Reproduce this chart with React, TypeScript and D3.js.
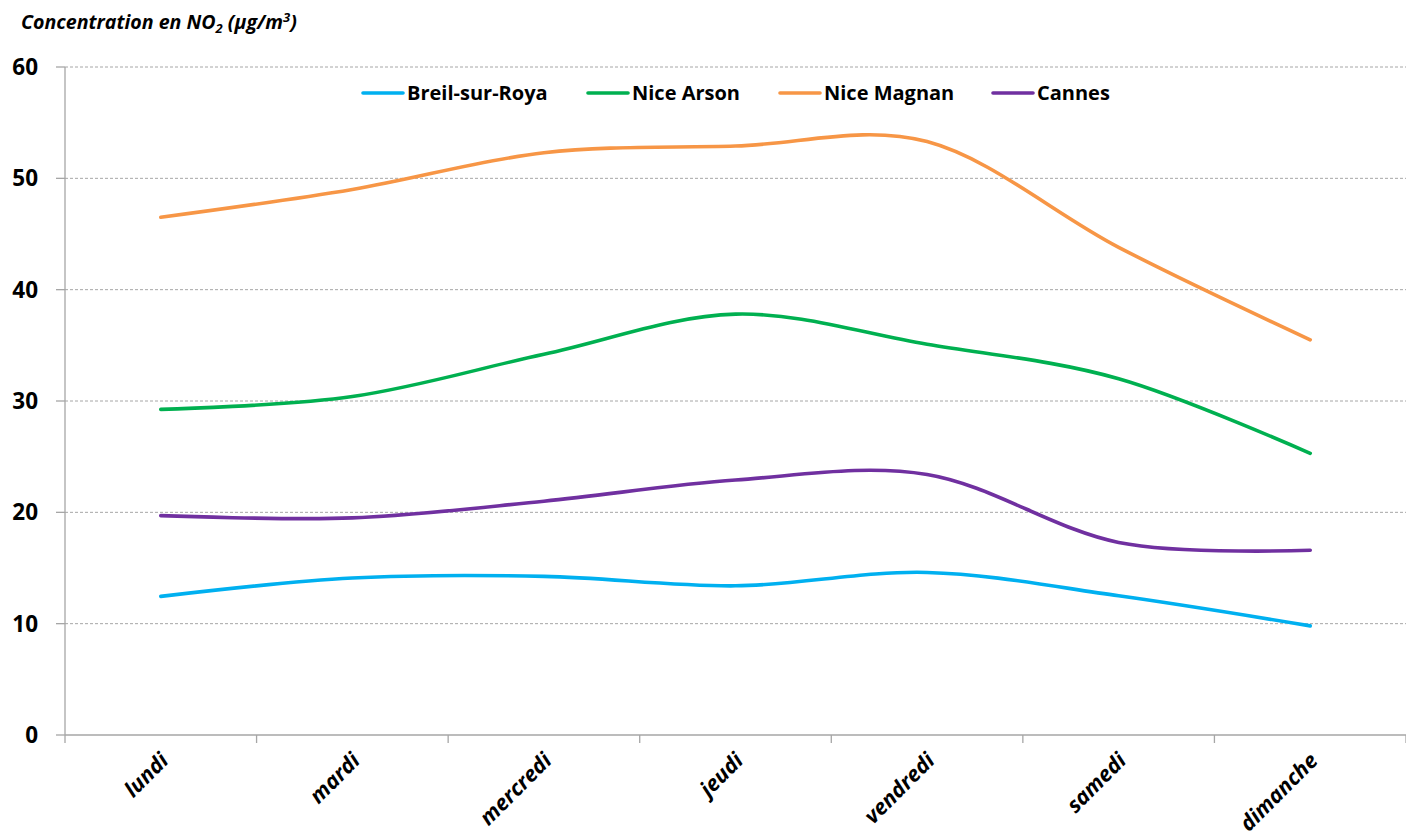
import React from "react";
import * as d3 from "d3";

const days = ["lundi", "mardi", "mercredi", "jeudi", "vendredi", "samedi", "dimanche"];
const breil = [12.45, 14.1, 14.25, 13.4, 14.6, 12.5, 9.8];
const niceArson = [29.25, 30.4, 34.2, 37.8, 35.1, 32.0, 25.3];
const niceMagnan = [46.5, 49.0, 52.3, 52.9, 53.3, 43.8, 35.5];
const cannes = [19.7, 19.5, 21.0, 22.9, 23.4, 17.3, 16.6];
const yTicks = [0, 10, 20, 30, 40, 50, 60];

const seriesList = [
  { name: "Breil-sur-Roya", values: breil, color: "#00B0F0" },
  { name: "Nice Arson", values: niceArson, color: "#00B050" },
  { name: "Nice Magnan", values: niceMagnan, color: "#F79646" },
  { name: "Cannes", values: cannes, color: "#7030A0" },
];

const W = 1406;
const H = 835;
const left = 65;
const right = 1406;
const top = 67;
const bottom = 735;
const font = "'Open Sans', Lato, sans-serif";

export default function App() {
  const x = d3.scaleBand<string>().domain(days).range([left, right]).paddingInner(0).paddingOuter(0);
  const y = d3.scaleLinear().domain([0, 60]).range([bottom, top]);
  const cx = (d: string) => (x(d) as number) + x.bandwidth() / 2;

  const line = d3
    .line<number>()
    .x((_, i) => cx(days[i]))
    .y((v) => y(v))
    .curve(d3.curveCardinal.tension(0));

  const boundaries = d3.range(days.length + 1).map((i) => left + i * x.bandwidth());
  const legendX = [363, 588, 780, 993];

  return (
    <svg
      width={W}
      height={H}
      style={{ position: "absolute", left: 0, top: 0, background: "#fff" }}
      fontFamily={font}
    >
      {/* title */}
      <text x={21} y={29} fontSize={19.6} fontWeight="bold" fontStyle="italic" fill="#000">
        Concentration en NO
        <tspan fontSize={13} dy={4}>2</tspan>
        <tspan dy={-4}> (µg/m</tspan>
        <tspan fontSize={13} dy={-7}>3</tspan>
        <tspan dy={7}>)</tspan>
      </text>

      {/* horizontal gridlines */}
      {yTicks.filter((t) => t > 0).map((t) => (
        <line key={t} x1={left} x2={right} y1={y(t)} y2={y(t)} stroke="#A6A6A6" strokeWidth={1} strokeDasharray="3,2" />
      ))}

      {/* y axis */}
      <line x1={left} x2={left} y1={top} y2={bottom} stroke="#A6A6A6" strokeWidth={1.3} />
      {yTicks.map((t) => (
        <g key={t}>
          <line x1={56} x2={left} y1={y(t)} y2={y(t)} stroke="#A6A6A6" strokeWidth={1.3} />
          <text x={38} y={y(t)} dy="0.36em" textAnchor="end" fontSize={22.5} fontWeight="bold" fill="#000">
            {t}
          </text>
        </g>
      ))}

      {/* x axis */}
      <line x1={left} x2={right} y1={bottom} y2={bottom} stroke="#A6A6A6" strokeWidth={1.3} />
      {boundaries.map((b, i) => (
        <line key={i} x1={b} x2={b} y1={bottom} y2={bottom + 8} stroke="#A6A6A6" strokeWidth={1.3} />
      ))}
      {days.map((d) => (
        <text
          key={d}
          transform={`translate(${cx(d) + 9},${bottom + 27}) rotate(-45)`}
          textAnchor="end"
          fontSize={21.5}
          fontWeight="bold"
          fontStyle="italic"
          fill="#000"
        >
          {d}
        </text>
      ))}

      {/* series */}
      {seriesList.map((s) => (
        <path key={s.name} d={line(s.values) as string} fill="none" stroke={s.color} strokeWidth={3.6} strokeLinecap="round" />
      ))}

      {/* legend */}
      {seriesList.map((s, i) => (
        <g key={s.name}>
          <line x1={legendX[i]} x2={legendX[i] + 40} y1={93} y2={93} stroke={s.color} strokeWidth={3.6} strokeLinecap="round" />
          <text x={legendX[i] + 44} y={93} dy="0.36em" fontSize={20} fontWeight="bold" fill="#000">
            {s.name}
          </text>
        </g>
      ))}
    </svg>
  );
}
